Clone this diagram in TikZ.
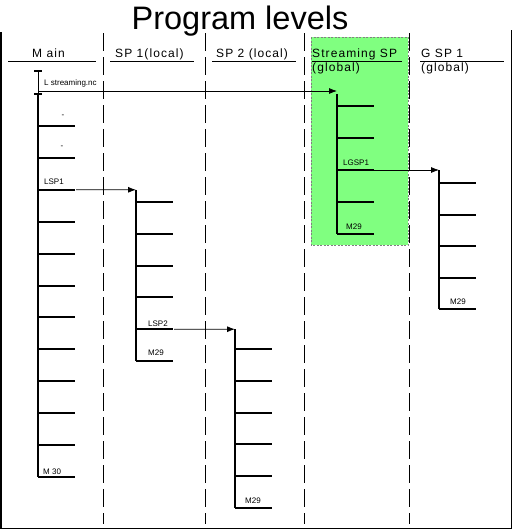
\documentclass[tikz,border=0pt]{standalone}
\usepackage{fontspec}
\setmainfont{Liberation Sans}
\newfontfamily\hdrfont[LetterSpace=9]{Liberation Sans}
\usetikzlibrary{arrows.meta}
\definecolor{boxgreen}{RGB}{128,255,128}
\begin{document}
\begin{tikzpicture}[x=1pt,y=-1pt,
  branch/.style={line width=2pt},
  stem/.style={line width=2pt},
  thinstem/.style={line width=1pt},
  call/.style={line width=0.8pt,-{Latex[length=8pt,width=6pt]}},
  sep/.style={line width=1pt,dash pattern=on 18pt off 6pt},
  frame/.style={line width=1.6pt},
  greenbox/.style={fill=boxgreen,draw=gray,line width=0.6pt,dash pattern=on 2pt off 1.5pt},
  hdr/.style={font=\hdrfont\fontsize{12}{14}\selectfont,anchor=base west,inner sep=0pt},
  lbl/.style={font=\fontsize{8}{9}\selectfont,anchor=base west,inner sep=0pt},
  uline/.style={line width=0.8pt},
]
\useasboundingbox (0,0) rectangle (512,530);

% title
\node (title) [anchor=base,inner sep=0pt,font=\fontsize{32.5}{36}\selectfont] at (240,29) {Program levels};

% green box for streaming SP
\draw[greenbox] (311,37) rectangle (408,245);

% frame
\draw[frame] (1,32) -- (1,528.5) -- (511,528.5);
\draw[line width=1pt] (511,30) -- (511,528.5);

% separators
\foreach \x in {103,205,304,409} { \draw[sep] (\x,33) -- (\x,524); }

% headers
\node (hmain) [hdr] at (32,57) {M ain};
\node (hsp1) [hdr] at (115,57) {SP 1(local)};
\node (hsp2) [hdr] at (216,57) {SP 2 (local)};
\node (hss) [hdr] at (312,57) {Streaming SP};
\node (hssg) [hdr] at (312,71) {(global)};
\node (hg) [hdr] at (421,57) {G SP 1};
\node (hgg) [hdr] at (421,71) {(global)};
\draw[uline] (8,61) -- (96,61);
\draw[uline] (110,61) -- (194,61);
\draw[uline] (212,61) -- (296,61);
\draw[uline] (312,61) -- (402,61);
\draw[uline] (420,61) -- (504,61);

% ---- Main ----
\coordinate (mcap1) at (38,71);
\coordinate (mcap2) at (38,94);
\coordinate (mcall) at (38,91);
\draw[thinstem] (mcap1) -- (mcap2);
\draw[stem] ([xshift=-4pt]mcap1) -- ([xshift=4pt]mcap1);
\draw[stem] ([xshift=-4pt]mcap2) -- ([xshift=4pt]mcap2);
\coordinate (mend) at (38,477);
\draw[stem] (mcap2) -- (mend);
\foreach \i in {0,...,11} {
  \coordinate (mb\i) at (38,{126+31.9*\i});
  \draw[branch] (mb\i) -- ++(37,0);
}
\node (lstream) [lbl] at (44,85) {L streaming.nc};
\node (dash1) [lbl] at (61.5,117) {-};
\node (dash2) [lbl] at (60.5,148) {-};
\node (lsp1) [lbl] at (44,184) {LSP1};
\node (m30) [lbl] at (43,474) {M 30};

% ---- Streaming SP ----
\coordinate (sstop) at (337,91);
\coordinate (ssa) at (337,94);
\coordinate (ssend) at (337,234);
\draw[stem] (ssa) -- (ssend);
\foreach \i in {0,...,4} {
  \coordinate (sb\i) at (337,{106+32*\i});
  \draw[branch] (sb\i) -- ++(37,0);
}
\node (lgsp1) [lbl] at (343,165) {LGSP1};
\node (ssm29) [lbl] at (346,229) {M29};
\draw[call] (mcall) -- (sstop);

% ---- SP 1 ----
\coordinate (s1top) at (136,189.8);
\coordinate (s1end) at (136,361);
\draw[stem] (s1top) -- (s1end);
\foreach \i in {0,...,5} {
  \coordinate (s1b\i) at (136,{202+31.8*\i});
  \draw[branch] (s1b\i) -- ++(37,0);
}
\node (lsp2) [lbl] at (148,326) {LSP2};
\node (s1m29) [lbl] at (148,355) {M29};
\draw[call] ([xshift=38pt]mb2) -- (s1top);

% ---- SP 2 ----
\coordinate (s2top) at (235,329.2);
\coordinate (s2end) at (235,508);
\draw[stem] (s2top) -- (s2end);
\foreach \i in {0,...,5} {
  \coordinate (s2b\i) at (235,{349+31.8*\i});
  \draw[branch] (s2b\i) -- ++(37,0);
}
\node (s2m29) [lbl] at (245,503) {M29};
\draw[call] ([xshift=38pt]s1b4) -- (s2top);

% ---- G SP 1 ----
\coordinate (gtop) at (439,170);
\coordinate (gend) at (439,309);
\draw[stem] (gtop) -- (gend);
\foreach \i in {0,...,4} {
  \coordinate (gb\i) at (439,{183+31.5*\i});
  \draw[branch] (gb\i) -- ++(37,0);
}
\node (gm29) [lbl] at (450,304) {M29};
\draw[call] ([xshift=37pt]sb2) -- (gtop);
\end{tikzpicture}
\end{document}
